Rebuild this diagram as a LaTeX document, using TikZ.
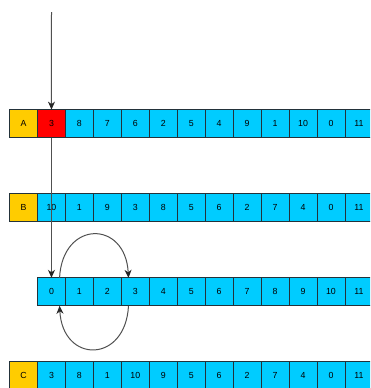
\documentclass[tikz,border=0pt]{standalone}
\usepackage{fontspec}
\setmainfont{Liberation Sans}
\usetikzlibrary{arrows.meta,calc}
\definecolor{cyanfill}{RGB}{0,204,255}
\definecolor{yelfill}{RGB}{255,204,0}
\definecolor{redfill}{RGB}{255,0,0}
\definecolor{edgecol}{RGB}{35,50,58}
\definecolor{linkcol}{RGB}{80,80,80}
\begin{document}
\begin{tikzpicture}[x=1pt,y=-1pt,
  cell/.style={draw=edgecol, line width=0.8pt, minimum width=27.95pt, minimum height=28pt,
    inner sep=0pt, outer sep=0pt, anchor=center, font=\fontsize{8.8}{10}\selectfont, fill=cyanfill},
  labelcell/.style={cell, fill=yelfill},
  hotcell/.style={cell, fill=redfill},
  link/.style={draw=linkcol, line width=1pt, -{Stealth[length=8pt,width=7pt,inset=2.5pt,color=black!85]}}]
\useasboundingbox (0,0) rectangle (370,388);
\clip (0,0) rectangle (370,388);
% row A
\node[labelcell] (a0) at (23.5,123.6) {A};
\foreach \v [count=\i] in {3,8,7,6,2,5,4,9,1,10,0,11} {
  \ifnum\i=1
    \node[hotcell] (a\i) at ({37.5+(\i-0.5)*27.95},123.6) {\v};
  \else
    \node[cell] (a\i) at ({37.5+(\i-0.5)*27.95},123.6) {\v};
  \fi
}
% row B
\node[labelcell] (b0) at (23.5,207.6) {B};
\foreach \v [count=\i] in {10,1,9,3,8,5,6,2,7,4,0,11}
  \node[cell] (b\i) at ({37.5+(\i-0.5)*27.95},207.6) {\v};
% index row
\foreach \v [count=\i] in {0,1,2,3,4,5,6,7,8,9,10,11}
  \node[cell] (c\i) at ({37.5+(\i-0.5)*27.95},291.8) {\v};
% row C
\node[labelcell] (d0) at (23.5,375.8) {C};
\foreach \v [count=\i] in {3,8,1,10,9,5,6,2,7,4,0,11}
  \node[cell] (d\i) at ({37.5+(\i-0.5)*27.95},375.8) {\v};
% connectors
\coordinate (top) at (51.5,12);
\draw[link] (top) -- (a1.north);
\draw[link] (a1.south) -- (c1.north);
\draw[link] (c1.60) .. controls ($(c1.60)+(3,-58)$) and ($(c4.116)+(-3,-58)$) .. (c4.116);
\draw[link] (c4.244) .. controls ($(c4.244)+(-3,58)$) and ($(c1.300)+(3,58)$) .. (c1.300);
\end{tikzpicture}
\end{document}
